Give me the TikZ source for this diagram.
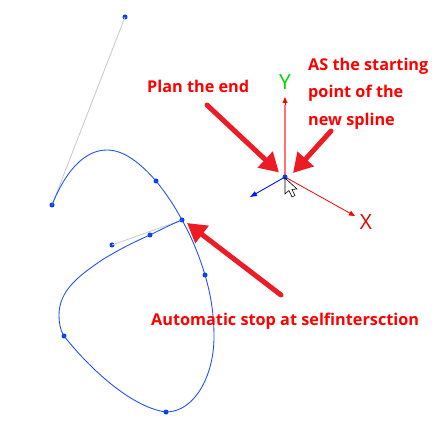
\documentclass[tikz,border=0pt]{standalone}
\usepackage{fontspec}
\setmainfont{Open Sans}
\usetikzlibrary{arrows.meta}
\definecolor{splineblue}{HTML}{1A4DF5}
\definecolor{dotblue}{HTML}{0A3CF0}
\definecolor{bigred}{HTML}{ED1C24}
\definecolor{handlegray}{HTML}{C8C8C8}
\tikzset{
  cp/.style={circle,fill=dotblue,inner sep=0pt,minimum size=5pt},
  handle/.style={draw=handlegray,line width=0.8pt},
  spline/.style={draw=splineblue,line width=0.85pt},
  bigarrow/.style={draw=bigred,line width=5pt,line cap=round,-{Triangle[length=19pt,width=21pt]}},
  note/.style={text=red,font=\bfseries\fontsize{16.25}{16.25}\selectfont,anchor=base west,inner sep=0pt},
  axislabel/.style={font=\fontsize{21}{21}\selectfont,inner sep=0pt},
  axisred/.style={draw=red,line width=0.8pt,-{Triangle[length=6pt,width=5pt]}},
}
\begin{document}
\begin{tikzpicture}[x=1pt,y=-1pt]
\useasboundingbox (0,0) rectangle (444,435);
\fill[white] (0,0) rectangle (444,435);
% control points
\node[cp] (start) at (52,205) {};
\node[cp] (p1) at (156,181) {};
\node[cp] (stop) at (182,220) {};
\node[cp] (p3) at (205,275) {};
\node[cp] (p4) at (166,412) {};
\node[cp] (p5) at (64,336) {};
\node[cp] (p6) at (150,235) {};
\node[cp] (h1) at (125,17) {};
\node[cp] (h2) at (112,245) {};
% handles
\draw[handle] (start.center) -- (h1.center);
\draw[handle] (h2.center) -- (stop.center);
% spline
\draw[spline] (start.center) .. controls (66,170) and (85,150) .. (107,150)
  .. controls (125,150) and (142,165) .. (p1.center)
  .. controls (165,192) and (174,205) .. (stop.center)
  .. controls (192,238) and (199,255) .. (p3.center)
  .. controls (211,295) and (214,315) .. (214,337)
  .. controls (214,375) and (195,412) .. (p4.center)
  .. controls (135,408) and (95,375) .. (p5.center)
  .. controls (60,330) and (59,322) .. (59,315)
  .. controls (59,290) and (80,275) .. (102,260)
  .. controls (118,250) and (134,242) .. (p6.center)
  .. controls (160,230) and (172,224) .. (stop.center);
% axes
\coordinate (o) at (285,177);
\coordinate (yend) at (285,97);
\coordinate (xend) at (355,216);
\coordinate (zend) at (250,197);
\draw[draw=red!55,line width=1.4pt] (o) -- (285,105);
\draw[axisred,line width=0pt,draw=red] (285,105) -- (yend);
\draw[axisred] (o) -- (xend);
\draw[draw=blue!90!cyan,line width=0.9pt,-{Triangle[length=7pt,width=5pt]}] (o) -- (zend);
\node[cp] (origin) at (o) {};
\node[axislabel,text=green!85!black] (ylabel) at (285,82) {Y};
\node[axislabel,text=red!90!black] (xlabel) at (366,222) {X};
% cursor
\draw[black,fill=white,line width=0.6pt,line join=miter]
  (285,178) -- (285,194) -- (289,190.5) -- (292,197) -- (295,195.5) -- (292,189.5) -- (297,189) -- cycle;
% notes
\node[note] (plan) at (147,92.5) {Plan the end};
\node[note] (as1) at (308,70.5) {AS the starting};
\node[note] (as2) at (308,98) {point of the};
\node[note] (as3) at (308,126) {new spline};
\node[note] (auto) at (151,325) {Automatic stop at selfintersction};
% big arrows
\coordinate (a1s) at (207,105);
\coordinate (a1e) at (279,172.5);
\coordinate (a2s) at (331,131);
\coordinate (a2e) at (293,173);
\coordinate (a3s) at (281,295);
\coordinate (a3e) at (187,223);
\draw[bigarrow] (a1s) -- (a1e);
\draw[bigarrow] (a2s) -- (a2e);
\draw[bigarrow] (a3s) -- (a3e);
\end{tikzpicture}
\end{document}
